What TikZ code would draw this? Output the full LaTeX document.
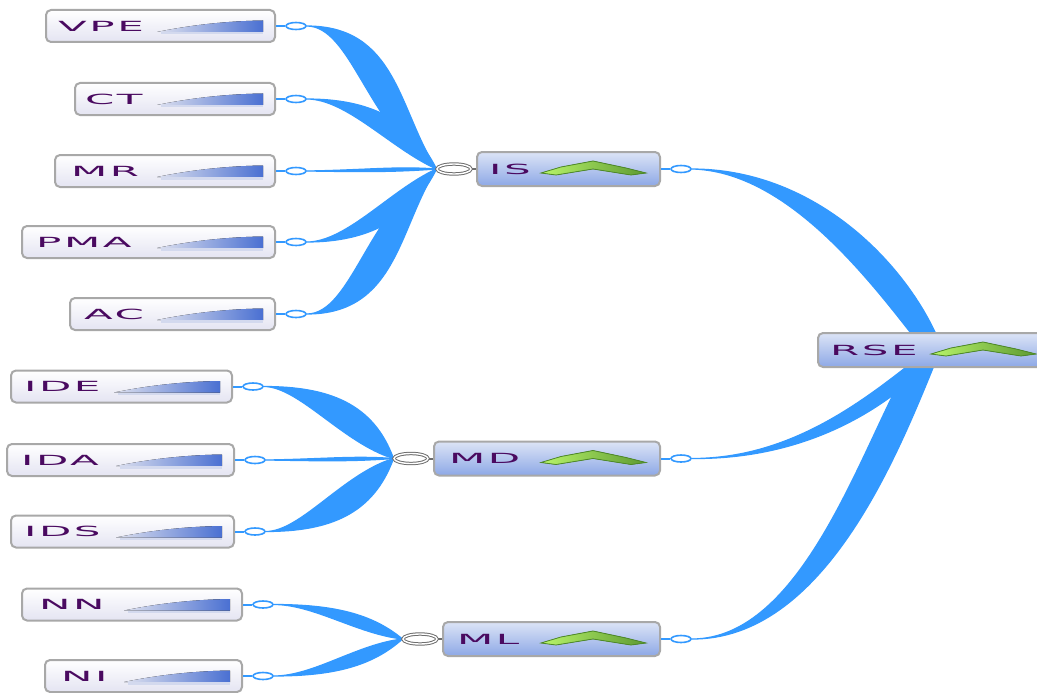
\documentclass[tikz,border=0pt]{standalone}
\usepackage{fontspec}
\usepackage{graphicx}
\usetikzlibrary{calc,shapes.geometric}
\newfontfamily\lblfont{DejaVu Sans}[LetterSpace=6]
\definecolor{cblue}{HTML}{3399FF}
\definecolor{boxgray}{HTML}{A8A8A8}
\definecolor{childbot}{HTML}{E4E4F2}
\definecolor{parTop}{HTML}{DCE4F6}
\definecolor{parBot}{HTML}{8DA8E6}
\definecolor{wedgeL}{HTML}{DDE0EE}
\definecolor{wedgeR}{HTML}{4A70D2}
\definecolor{wedgeB}{HTML}{D3D9EE}
\definecolor{chevL}{HTML}{B8F46A}
\definecolor{chevR}{HTML}{5E9A32}
\definecolor{chevD}{HTML}{4E8A28}
\definecolor{txtcol}{HTML}{4A0A60}
\definecolor{egray}{HTML}{6E6E6E}
\newcommand{\lbl}[1]{\scalebox{3}[1]{\lblfont\fontsize{14}{14}\selectfont #1}}
\newcommand{\cdeco}[1]{%
  \fill[left color=wedgeL, right color=wedgeR] ($(#1.east)+(-119,6)$) .. controls ($(#1.east)+(-80,-2)$) and ($(#1.east)+(-45,-5)$) .. ($(#1.east)+(-13,-5.5)$) -- ($(#1.east)+(-13,6)$) -- cycle;
  \fill[wedgeB] ($(#1.east)+(-115,6)$) rectangle ($(#1.east)+(-13,8.5)$);}
\newcommand{\pdeco}[2]{%
  \filldraw[draw=chevD, line width=0.8pt, left color=chevL, right color=chevR] ($(#1.east)+(-120+#2,4)$) -- ($(#1.east)+(-100+#2,-2)$) -- ($(#1.east)+(-68+#2,-8)$) -- ($(#1.east)+(-35+#2,-1)$) -- ($(#1.east)+(-15+#2,4)$) -- ($(#1.east)+(-30+#2,6)$) -- ($(#1.east)+(-68+#2,0)$) -- ($(#1.east)+(-105+#2,6)$) -- cycle;}
\pgfdeclarelayer{bg}
\pgfsetlayers{bg,main}
\begin{document}
\begin{tikzpicture}[x=1pt,y=-1pt,
  cbox/.style={draw=boxgray, line width=2pt, rounded corners=5pt, top color=white, bottom color=childbot, minimum height=32pt, inner sep=0pt},
  pbox/.style={draw=boxgray, line width=2pt, rounded corners=5pt, top color=parTop, bottom color=parBot, minimum height=34pt, inner sep=0pt},
  ltext/.style={anchor=west, inner sep=0pt, text=txtcol},
  oell/.style={ellipse, draw=cblue, line width=1.6pt, fill=white, minimum width=20pt, minimum height=7pt, inner sep=0pt},
  iell/.style={ellipse, draw=egray, line width=1pt, double=white, double distance=1.4pt, fill=white, minimum width=34pt, minimum height=10pt, inner sep=0pt},
  conn/.style={fill=cblue, draw=cblue, line width=1.2pt, line join=round},
  ostub/.style={draw=cblue, line width=2pt},
  istub/.style={draw=egray, line width=2pt}]
\useasboundingbox (0,0) rectangle (1037,693);
% child boxes
\node[cbox, minimum width=229pt] (vpe) at (160.5,26) {};
\node[cbox, minimum width=200pt] (ct) at (175,99) {};
\node[cbox, minimum width=220pt] (mr) at (165,171) {};
\node[cbox, minimum width=253pt] (pma) at (148.5,242) {};
\node[cbox, minimum width=205pt] (ac) at (172.5,314) {};
\node[cbox, minimum width=221pt] (ide) at (121.5,386.5) {};
\node[cbox, minimum width=227pt] (ida) at (120.5,460) {};
\node[cbox, minimum width=223pt] (ids) at (122.5,531.5) {};
\node[cbox, minimum width=220pt] (nn) at (132,604.5) {};
\node[cbox, minimum width=197pt] (ni) at (143.5,676) {};
% parent boxes
\node[pbox, minimum width=183pt] (is) at (568.5,169) {};
\node[pbox, minimum width=226pt] (md) at (547,458.5) {};
\node[pbox, minimum width=217pt] (ml) at (551.5,639) {};
\node[pbox, minimum width=224pt] (rse) at (930,350) {};
% decorations
\foreach \n in {vpe,ct,mr,pma,ac,ide,ida,ids,nn,ni}{\cdeco{\n}}
\foreach \n in {is,md,ml}{\pdeco{\n}{0}}
\pdeco{rse}{8}
% labels
\node[ltext] (vpe-t) at ($(vpe.west)+(13,0)$) {\lbl{VPE}};
\node[ltext] (ct-t) at ($(ct.west)+(11,0)$) {\lbl{CT}};
\node[ltext] (mr-t) at ($(mr.west)+(17,0)$) {\lbl{MR}};
\node[ltext] (pma-t) at ($(pma.west)+(15,0)$) {\lbl{PMA}};
\node[ltext] (ac-t) at ($(ac.west)+(15,0)$) {\lbl{AC}};
\node[ltext] (ide-t) at ($(ide.west)+(14,0)$) {\lbl{IDE}};
\node[ltext] (ida-t) at ($(ida.west)+(15,0)$) {\lbl{IDA}};
\node[ltext] (ids-t) at ($(ids.west)+(14,0)$) {\lbl{IDS}};
\node[ltext] (nn-t) at ($(nn.west)+(18,0)$) {\lbl{NN}};
\node[ltext] (ni-t) at ($(ni.west)+(17,0)$) {\lbl{NI}};
\node[ltext] (is-t) at ($(is.west)+(13,0)$) {\lbl{IS}};
\node[ltext] (md-t) at ($(md.west)+(16,0)$) {\lbl{MD}};
\node[ltext] (ml-t) at ($(ml.west)+(15,0)$) {\lbl{ML}};
\node[ltext] (rse-t) at ($(rse.west)+(13,0)$) {\lbl{RSE}};
% out ellipses
\foreach \n in {vpe,ct,mr,pma,ac,ide,ida,ids,nn,ni,is,md,ml}{
  \node[oell] (\n-o) at ($(\n.east)+(20,0)$) {};
  \draw[ostub] (\n.east) -- (\n-o.west);}
% in ellipses
\foreach \n in {is,md,ml}{
  \node[iell] (\n-i) at ($(\n.west)+(-22,0)$) {};
  \draw[istub] (\n-i.east) -- (\n.west);}
% RSE anchor points
\coordinate (rse-t1) at ($(rse.north)+(-20,0)$);
\coordinate (rse-t2) at ($(rse.north)+(5,0)$);
\coordinate (rse-b1) at ($(rse.south)+(-23,0)$);
\coordinate (rse-b2) at ($(rse.south)+(3,0)$);
\coordinate (rse-b3) at ($(rse.south)+(-25,0)$);
\coordinate (rse-b4) at ($(rse.south)+(-5,0)$);
\begin{pgfonlayer}{bg}
% IS group
\filldraw[conn] (vpe-o.east) .. controls +(90,0) and +(-38,-59) .. (is-i.west) .. controls +(-68,-39) and +(45,0) .. (vpe-o.east) -- cycle;
\filldraw[conn] (ct-o.east) .. controls +(62,0) and +(-25,-50) .. (is-i.west) .. controls +(-45,-20) and +(40,0) .. (ct-o.east) -- cycle;
\filldraw[conn] (mr-o.east) .. controls +(60,-1) and +(-40,-3) .. (is-i.west) .. controls +(-40,3) and +(60,1) .. (mr-o.east) -- cycle;
\filldraw[conn] (pma-o.east) .. controls +(62,0) and +(-25,50) .. (is-i.west) .. controls +(-45,20) and +(40,0) .. (pma-o.east) -- cycle;
\filldraw[conn] (ac-o.east) .. controls +(90,0) and +(-38,59) .. (is-i.west) .. controls +(-68,39) and +(45,0) .. (ac-o.east) -- cycle;
% MD group
\filldraw[conn] (ide-o.east) .. controls +(65,0) and +(-20,-55) .. (md-i.west) .. controls +(-50,-15) and +(35,0) .. (ide-o.east) -- cycle;
\filldraw[conn] (ida-o.east) .. controls +(60,-1) and +(-40,-3) .. (md-i.west) .. controls +(-40,3) and +(60,1) .. (ida-o.east) -- cycle;
\filldraw[conn] (ids-o.east) .. controls +(65,0) and +(-20,55) .. (md-i.west) .. controls +(-50,15) and +(35,0) .. (ids-o.east) -- cycle;
% ML group
\filldraw[conn] (nn-o.east) .. controls +(60,0) and +(-30,-25) .. (ml-i.west) .. controls +(-45,-5) and +(40,0) .. (nn-o.east) -- cycle;
\filldraw[conn] (ni-o.east) .. controls +(60,0) and +(-30,27) .. (ml-i.west) .. controls +(-45,5) and +(40,0) .. (ni-o.east) -- cycle;
% to RSE
\filldraw[conn] (is-o.east) .. controls +(120,0) and +(-35,-74) .. (rse-t2) -- (rse-t1) .. controls +(-50,-64) and +(90,2) .. (is-o.east) -- cycle;
\filldraw[conn] (md-o.east) .. controls +(90,0) and +(-55,43) .. (rse-b3) -- (rse-b4) .. controls +(-55,53) and +(100,1) .. (md-o.east) -- cycle;
\filldraw[conn] (ml-o.east) .. controls +(110,0) and +(-47,83) .. (rse-b1) -- (rse-b2) .. controls +(-38,93) and +(130,1) .. (ml-o.east) -- cycle;
\end{pgfonlayer}
\end{tikzpicture}
\end{document}
